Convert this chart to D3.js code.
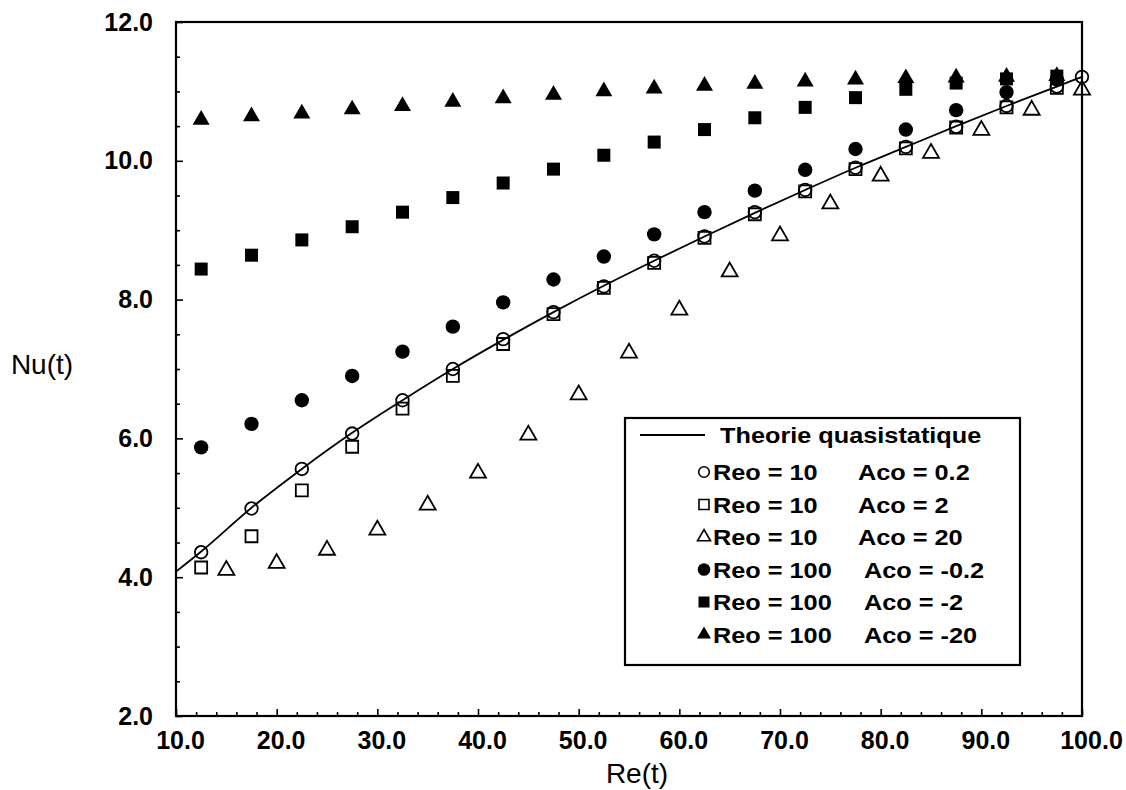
<!DOCTYPE html>
<html>
<head>
<meta charset="utf-8">
<script src="https://cdn.jsdelivr.net/npm/d3@7"></script>
<style>
  html, body { margin: 0; padding: 0; background: #fff; }
  svg { display: block; }
</style>
</head>
<body>
<svg id="chart" width="1126" height="790"></svg>
<script>
// ---------- data ----------
const xMain = [12.5, 17.5, 22.5, 27.5, 32.5, 37.5, 42.5, 47.5, 52.5, 57.5, 62.5, 67.5, 72.5, 77.5, 82.5, 87.5, 92.5, 97.5];
const xOpenTri = [15, 20, 25, 30, 35, 40, 45, 50, 55, 60, 65, 70, 75, 80, 85, 90, 95, 100];
const xCircle = [12.5, 17.5, 22.5, 27.5, 32.5, 37.5, 42.5, 47.5, 52.5, 57.5, 62.5, 67.5, 72.5, 77.5, 82.5, 87.5, 92.5, 97.5, 100];

const xTheory = [10, 12.5, 17.5, 22.5, 27.5, 32.5, 37.5, 42.5, 47.5, 52.5, 57.5, 62.5, 67.5, 72.5, 77.5, 82.5, 87.5, 92.5, 97.5, 100];
const yTheory = [4.08, 4.37, 5.0, 5.56, 6.08, 6.55, 7.0, 7.42, 7.82, 8.2, 8.56, 8.91, 9.25, 9.58, 9.9, 10.2, 10.5, 10.79, 11.07, 11.21];

const yOpenCircle = [4.36, 4.99, 5.56, 6.07, 6.55, 7.0, 7.43, 7.82, 8.19, 8.56, 8.91, 9.26, 9.58, 9.9, 10.2, 10.49, 10.79, 11.07, 11.21];
const yOpenSquare = [4.14, 4.59, 5.25, 5.88, 6.43, 6.9, 7.36, 7.79, 8.17, 8.53, 8.89, 9.23, 9.56, 9.88, 10.18, 10.48, 10.77, 11.05];
const yOpenTri = [4.10, 4.20, 4.39, 4.68, 5.04, 5.50, 6.05, 6.63, 7.23, 7.85, 8.40, 8.92, 9.38, 9.78, 10.11, 10.44, 10.73, 11.02];
const yFillCircle = [5.87, 6.21, 6.55, 6.90, 7.25, 7.61, 7.96, 8.29, 8.62, 8.94, 9.26, 9.57, 9.87, 10.17, 10.45, 10.73, 10.99, 11.17];
const yFillSquare = [8.44, 8.64, 8.86, 9.05, 9.26, 9.47, 9.68, 9.88, 10.08, 10.27, 10.45, 10.62, 10.77, 10.91, 11.03, 11.12, 11.18, 11.22];
const yFillTri = [10.59, 10.64, 10.68, 10.74, 10.79, 10.85, 10.90, 10.95, 11.0, 11.04, 11.08, 11.11, 11.14, 11.17, 11.19, 11.20, 11.21, 11.22];

const xTicks = [10, 20, 30, 40, 50, 60, 70, 80, 90, 100];
const xMinorTicks = [12, 14, 16, 18, 22, 24, 26, 28, 32, 34, 36, 38, 42, 44, 46, 48, 52, 54, 56, 58, 62, 64, 66, 68, 72, 74, 76, 78, 82, 84, 86, 88, 92, 94, 96, 98];
const yTicks = [2, 4, 6, 8, 10, 12];
const yMinorTicks = [2.5, 3, 3.5, 4.5, 5, 5.5, 6.5, 7, 7.5, 8.5, 9, 9.5, 10.5, 11, 11.5];

const legendTitle = "Theorie quasistatique";
const legendReo = ["Reo = 10", "Reo = 10", "Reo = 10", "Reo = 100", "Reo = 100", "Reo = 100"];
const legendAco = ["Aco = 0.2", "Aco = 2", "Aco = 20", "Aco = -0.2", "Aco = -2", "Aco = -20"];
const legendSymbols = ["openCircle", "openSquare", "openTri", "fillCircle", "fillSquare", "fillTri"];

const xLabel = "Re(t)";
const yLabel = "Nu(t)";

// ---------- layout ----------
const L = 176, R = 1082, T = 22, B = 716;
const svg = d3.select("#chart");
const x = d3.scaleLinear().domain([10, 100]).range([L, R]);
const y = d3.scaleLinear().domain([2, 12]).range([B, T]);

svg.append("rect").attr("width", 1126).attr("height", 790).attr("fill", "#fff");

// theory line
svg.append("path")
  .datum(xTheory.map((d, i) => [d, yTheory[i]]))
  .attr("fill", "none").attr("stroke", "#000").attr("stroke-width", 1.8)
  .attr("d", d3.line().x(d => x(d[0])).y(d => y(d[1])).curve(d3.curveMonotoneX));

// symbols
const sym = {
  openCircle: { type: d3.symbolCircle, size: Math.PI * 6.3 * 6.3, fill: "none" },
  openSquare: { type: d3.symbolSquare, size: 12 * 12, fill: "none" },
  openTri: { type: d3.symbolTriangle, size: 16 * 16 * Math.sqrt(3) / 4, fill: "none" },
  fillCircle: { type: d3.symbolCircle, size: Math.PI * 7.2 * 7.2, fill: "#000" },
  fillSquare: { type: d3.symbolSquare, size: 13 * 13, fill: "#000" },
  fillTri: { type: d3.symbolTriangle, size: 17 * 17 * Math.sqrt(3) / 4, fill: "#000" }
};
const legSym = {
  openCircle: { type: d3.symbolCircle, size: Math.PI * 5.3 * 5.3, fill: "none" },
  openSquare: { type: d3.symbolSquare, size: 10 * 10, fill: "none" },
  openTri: { type: d3.symbolTriangle, size: 13 * 13 * Math.sqrt(3) / 4, fill: "none" },
  fillCircle: { type: d3.symbolCircle, size: Math.PI * 6.3 * 6.3, fill: "#000" },
  fillSquare: { type: d3.symbolSquare, size: 11 * 11, fill: "#000" },
  fillTri: { type: d3.symbolTriangle, size: 14 * 14 * Math.sqrt(3) / 4, fill: "#000" }
};

function drawSeries(xs, ys, key) {
  const s = sym[key];
  svg.append("g").selectAll("path").data(xs.map((d, i) => [d, ys[i]])).join("path")
    .attr("transform", d => `translate(${x(d[0])},${y(d[1])})`)
    .attr("d", d3.symbol().type(s.type).size(s.size))
    .attr("fill", s.fill)
    .attr("stroke", "#000")
    .attr("stroke-width", s.fill === "none" ? 1.8 : 0);
}
drawSeries(xCircle, yOpenCircle, "openCircle");
drawSeries(xMain, yOpenSquare, "openSquare");
drawSeries(xOpenTri, yOpenTri, "openTri");
drawSeries(xMain, yFillCircle, "fillCircle");
drawSeries(xMain, yFillSquare, "fillSquare");
drawSeries(xMain, yFillTri, "fillTri");

// axes
const fmt = d3.format(".1f");
const gx = svg.append("g").attr("transform", `translate(0,${B})`)
  .call(d3.axisBottom(x).tickValues(xTicks).tickFormat(fmt).tickSize(-7).tickPadding(15));
const gxm = svg.append("g").attr("transform", `translate(0,${B})`)
  .call(d3.axisBottom(x).tickValues(xMinorTicks).tickFormat("").tickSize(-4));
const gy = svg.append("g").attr("transform", `translate(${L},0)`)
  .call(d3.axisLeft(y).tickValues(yTicks).tickFormat(fmt).tickSize(-7).tickPadding(23));
const gym = svg.append("g").attr("transform", `translate(${L},0)`)
  .call(d3.axisLeft(y).tickValues(yMinorTicks).tickFormat("").tickSize(-4));
[gx, gxm, gy, gym].forEach(g => {
  g.select(".domain").remove();
  g.selectAll(".tick line").attr("stroke", "#000").attr("stroke-width", 1.6);
  g.selectAll("text")
    .attr("fill", "#000")
    .style("font-family", "'Liberation Sans', Arial, sans-serif")
    .style("font-size", "25px")
    .style("font-weight", "bold");
});
gx.selectAll(".tick text").attr("dx", d => d === 100 ? 9 : 4);

// frame
svg.append("rect").attr("x", L).attr("y", T).attr("width", R - L).attr("height", B - T)
  .attr("fill", "none").attr("stroke", "#000").attr("stroke-width", 2.2);

// axis titles
svg.append("text").text(xLabel).attr("x", 637).attr("y", 783)
  .attr("text-anchor", "middle")
  .style("font-family", "'Liberation Sans', Arial, sans-serif").style("font-size", "28px");
svg.append("text").text(yLabel).attr("x", 42).attr("y", 374)
  .attr("text-anchor", "middle")
  .style("font-family", "'Liberation Sans', Arial, sans-serif").style("font-size", "28px");

// legend
const lg = svg.append("g");
lg.append("rect").attr("x", 625).attr("y", 418).attr("width", 395).attr("height", 247)
  .attr("fill", "#fff").attr("stroke", "#000").attr("stroke-width", 2.2);
lg.append("line").attr("x1", 640).attr("x2", 705).attr("y1", 435).attr("y2", 435)
  .attr("stroke", "#000").attr("stroke-width", 1.8);
const legFont = t => t.style("font-family", "'Liberation Sans', Arial, sans-serif")
  .style("font-size", "22px").style("font-weight", "bold");
lg.append("text").text(legendTitle)
  .attr("transform", "translate(720,443) scale(1.15,1)").call(legFont);
const rowY = [472, 504.5, 537, 569.5, 602, 634.5];
legendSymbols.forEach((k, i) => {
  const s = legSym[k];
  lg.append("path").attr("transform", `translate(704,${rowY[i]})`)
    .attr("d", d3.symbol().type(s.type).size(s.size))
    .attr("fill", s.fill).attr("stroke", "#000").attr("stroke-width", s.fill === "none" ? 1.6 : 0);
  lg.append("text").text(legendReo[i])
    .attr("transform", `translate(713,${rowY[i] + 8}) scale(1.15,1)`).call(legFont);
  const ax = legendReo[i].length > 8 ? 864 : 858;
  lg.append("text").text(legendAco[i])
    .attr("transform", `translate(${ax},${rowY[i] + 8}) scale(1.15,1)`).call(legFont);
});
</script>
</body>
</html>
